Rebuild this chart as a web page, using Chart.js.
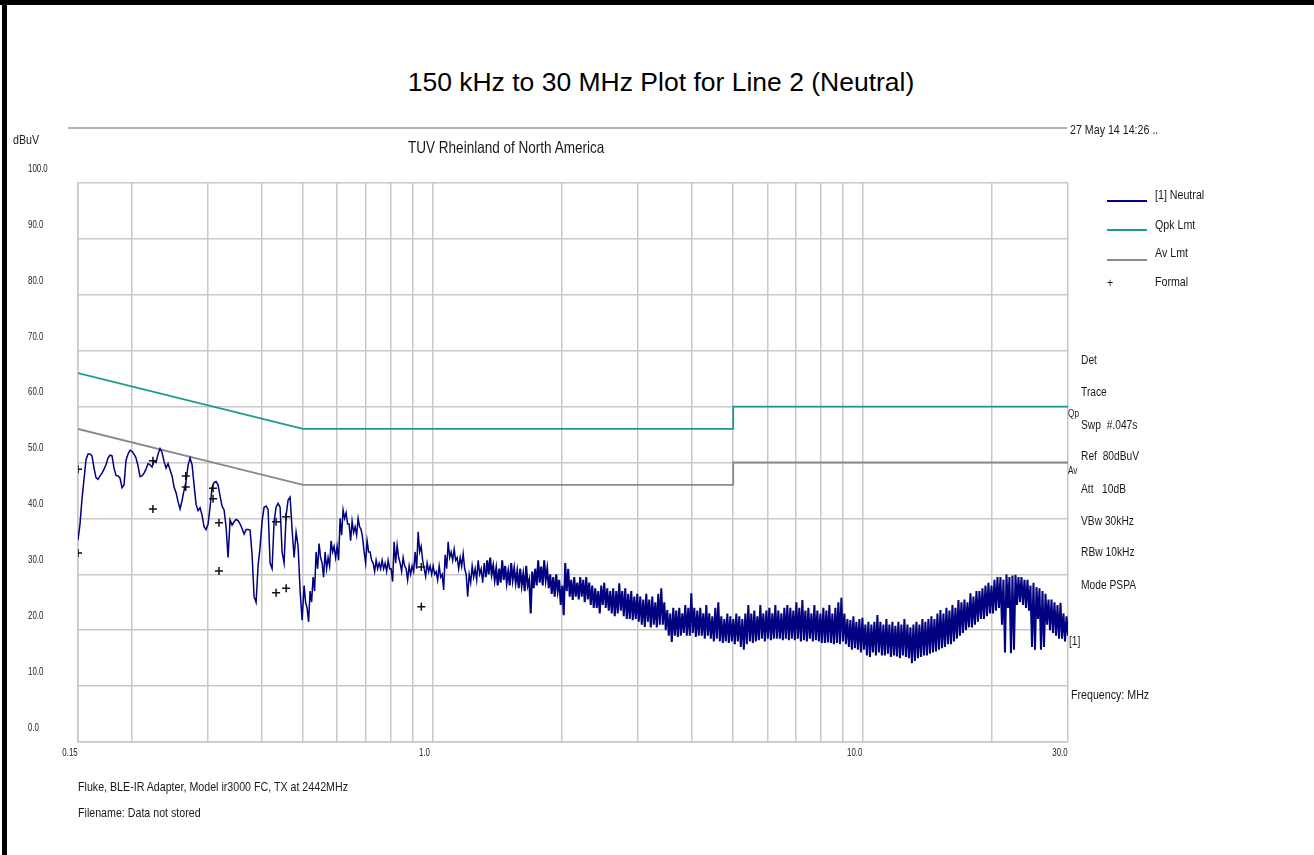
<!DOCTYPE html>
<html>
<head>
<meta charset="utf-8">
<title>150 kHz to 30 MHz Plot for Line 2 (Neutral)</title>
<script src="https://cdn.jsdelivr.net/npm/chart.js@4.4.1/dist/chart.umd.min.js"></script>
<style>
  html, body { margin: 0; padding: 0; background: #fff; }
  #page { position: relative; width: 1314px; height: 855px; overflow: hidden; background: #fff; }
  #topbar { position: absolute; left: 0; top: 0; width: 1314px; height: 5px; background: #000; }
  #leftbar { position: absolute; left: 2px; top: 0; width: 5px; height: 855px; background: #000; }
  #title { position: absolute; left: 0; width: 1322px; top: 69px; text-align: center;
           font: 26.5px "Liberation Sans", Arial, sans-serif; line-height: 1; color: #000; }
  #chartBox { position: absolute; left: 0; top: 0; width: 1314px; height: 855px; }
  /* the analyzer printout uses a narrow face; squeeze Arial-metric text */
  .t { position: absolute; font-family: "Liberation Sans", Arial, sans-serif; line-height: 1;
       color: #1a1a1a; white-space: pre; transform: scaleX(0.82); transform-origin: 0 0; }
  .hline { position: absolute; height: 2px; }
</style>
</head>
<body>
<div id="page">
  <div id="topbar"></div>
  <div id="leftbar"></div>
  <div id="title">150 kHz to 30 MHz Plot for Line 2 (Neutral)</div>
  <div id="chartBox"><canvas id="emi"></canvas></div>

  <div class="hline" style="left:68px; top:127px; width:999px; background:#b4b4b4;"></div>
  <div class="t" style="left:13px; top:133px; font-size:13px;">dBuV</div>
  <div class="t" style="left:1070px; top:123px; font-size:13px;">27 May 14 14:26 ..</div>
  <div class="t" style="left:408px; top:139px; font-size:16.5px;">TUV Rheinland of North America</div>

  <!-- legend -->
  <div class="hline" style="left:1107px; top:200px; width:40px; background:#000080;"></div>
  <div class="hline" style="left:1107px; top:229px; width:40px; background:#1f9a8c;"></div>
  <div class="hline" style="left:1107px; top:259px; width:40px; background:#8a8a8a;"></div>
  <div class="t" style="left:1107px; top:276px; font-size:13px;">+</div>
  <div class="t" style="left:1155px; top:188px; font-size:13px;">[1] Neutral</div>
  <div class="t" style="left:1155px; top:218px; font-size:13px;">Qpk Lmt</div>
  <div class="t" style="left:1155px; top:246px; font-size:13px;">Av Lmt</div>
  <div class="t" style="left:1155px; top:275px; font-size:13px;">Formal</div>

  <!-- analyzer settings -->
  <div class="t" style="left:1081px; top:354px; font-size:12.5px;">Det</div>
  <div class="t" style="left:1081px; top:386px; font-size:12.5px;">Trace</div>
  <div class="t" style="left:1081px; top:419px; font-size:12.5px;">Swp  #.047s</div>
  <div class="t" style="left:1081px; top:450px; font-size:12.5px;">Ref  80dBuV</div>
  <div class="t" style="left:1081px; top:483px; font-size:12.5px;">Att   10dB</div>
  <div class="t" style="left:1081px; top:515px; font-size:12.5px;">VBw 30kHz</div>
  <div class="t" style="left:1081px; top:546px; font-size:12.5px;">RBw 10kHz</div>
  <div class="t" style="left:1081px; top:579px; font-size:12.5px;">Mode PSPA</div>
  <div class="t" style="left:1068px; top:409px; font-size:10px;">Qp</div>
  <div class="t" style="left:1068px; top:466px; font-size:10px;">Av</div>
  <div class="t" style="left:1069px; top:635px; font-size:12.5px;">[1]</div>
  <div class="t" style="left:1071px; top:688px; font-size:13px;">Frequency: MHz</div>

  <div class="t" style="left:78px; top:780px; font-size:13px;">Fluke, BLE-IR Adapter, Model ir3000 FC, TX at 2442MHz</div>
  <div class="t" style="left:78px; top:806px; font-size:13px;">Filename: Data not stored</div>
</div>

<script>
// axis ticks (MHz / dBuV)
const xTicks = [0.15, 0.2, 0.3, 0.4, 0.5, 0.6, 0.7, 0.8, 0.9,
                1, 2, 3, 4, 5, 6, 7, 8, 9, 10, 20, 30];
const xLabels = { 0.15: '0.15', 1: '1.0', 10: '10.0', 30: '30.0' };
const yTicks = [0, 10, 20, 30, 40, 50, 60, 70, 80, 90, 100];

// limit lines
const qpkMHz = [0.15, 0.5, 5, 5, 30];
const qpkDb  = [66, 56, 56, 60, 60];
const avMHz  = [0.15, 0.5, 5, 5, 30];
const avDb   = [56, 46, 46, 50, 50];

// final measurements (+)
const formalMHz = [0.15, 0.15, 0.224, 0.224, 0.267, 0.267, 0.309, 0.309,
                   0.319, 0.319, 0.433, 0.433, 0.457, 0.457, 0.942, 0.942];
const formalDb  = [48.8, 33.8, 50.3, 41.7, 47.6, 45.6, 45.4, 43.5,
                   39.2, 30.6, 39.4, 26.7, 40.3, 27.5, 31.3, 24.2];

// sweep 1: 0.15 - 0.498 MHz, one level per display point
const sweep1Start = 0.15, sweep1Stop = 0.4977;
const sweep1Db = [
  36.1, 39, 43.5, 47, 50.5, 51.5, 51.5, 51.2, 49, 47.3,
  47, 47.6, 48.1, 48.8, 49.6, 50.8, 51.3, 51.2, 49, 47.7,
  47.6, 47.2, 45.5, 46, 50.4, 51.5, 52.2, 52, 51.5, 50.8,
  49.4, 47.5, 47.6, 48.1, 48.8, 49.8, 49.6, 49.2, 50.3, 50,
  51.5, 52.5, 51.8, 50.2, 49, 49.8, 48.7, 47.6, 45.6, 44.6,
  43, 41.7, 43.2, 45, 46.6, 49.5, 50.8, 49.6, 46, 42.5,
  41.4, 41.9, 40.6, 38.5, 38, 39, 42, 45.6, 46.4, 46.6,
  46, 44, 42.2, 41.5, 38.5, 33, 39.7, 38.8, 39.4, 39.8,
  39.6, 39, 38.2, 37.2, 38, 38, 37.9, 33.5, 26, 25,
  31.5, 34.9, 39.5, 42, 42.2, 41.6, 32, 31, 39.5, 42,
  42.7, 42, 34, 32, 40.5, 43.3, 43.8, 38, 33, 37.5,
  35, 27, 21.8
];

// sweep 2: 0.503 - 30 MHz, max / min of each display bucket
const sweep2Start = 0.503, sweep2Stop = 30;
const sweep2Max = [
  28, 24, 27, 29.5, 34, 35.5, 32, 34, 33, 36,
  35, 35, 40, 41.5, 41, 39, 39.5, 38.5, 40, 38,
  34, 36, 34, 32, 32.5, 32, 32.5, 32, 32.5, 31,
  35.8, 35.2, 32, 33, 31, 31.5, 31.5, 34, 37.6, 35,
  31, 32, 31.5, 31.5, 30.5, 31.5, 30, 33.5, 35.8, 34,
  34.5, 33, 33, 33.7, 30, 30, 31.5, 31, 32.5, 31,
  32, 32.5, 33, 31.5, 31, 31, 32.5, 31.5, 30.5, 32,
  31, 30.5, 31, 30, 31.5, 29, 30.5, 31, 32.5, 31.4,
  32.5, 31, 30, 29.5, 30, 29, 28, 32, 31, 29,
  29.5, 28.5, 29.5, 29, 29.5, 28.5, 28, 27.5, 27, 28,
  28.5, 27.5, 27, 27.5, 27, 28.4, 27, 27.5, 26.5, 27,
  26, 26.5, 26, 25.5, 26.5, 25.5, 26, 25, 26.5, 27.5,
  25, 23.6, 23, 24, 23.5, 24, 23, 24.5, 24, 26.6,
  24, 23.5, 24, 23, 24.5, 23, 22.5, 24, 25, 22.5,
  22, 23, 22.5, 22, 23, 22.5, 22, 23, 24.5, 23,
  23.5, 22.5, 24.5, 23, 23.5, 24, 23, 24.5, 23.5, 23,
  24, 24.5, 24, 23.5, 25, 24, 25.4, 23.5, 24, 23,
  24.5, 23.5, 23, 24, 23.5, 24.5, 23, 24, 25, 25.8,
  23, 22, 21.8, 22.5, 21.5, 22, 22.2, 21, 21.5, 21,
  21.5, 22.7, 21.5, 21, 22, 21, 21.5, 20.8, 21.5, 21,
  22, 21, 20.5, 21, 21.5, 21, 22, 21.5, 22, 22.5,
  22, 23, 23.6, 23, 24, 23.5, 24.5, 24, 25.4, 25,
  25.5, 25, 26.6, 26, 27, 27, 27.5, 28, 28.5, 28,
  29, 29.5, 29.5, 29, 30, 29.5, 29.8, 29.9, 29.5, 29.5,
  29, 29, 28, 28.5, 27.7, 27.5, 27, 26.5, 25.5, 25.5,
  25, 24.5, 24.9, 23, 22.5
];
const sweep2Min = [
  25, 21.5, 25, 27, 31, 33, 29.5, 31, 31.5, 34,
  33, 32.5, 37, 40, 39, 36, 37.5, 37, 38.5, 36.5,
  32, 34, 32.5, 30.5, 31, 31, 31, 30.5, 31, 28.7,
  32, 33, 30.5, 31.5, 29, 30, 30.5, 31, 34, 32.5,
  29.6, 30.5, 30, 30, 29, 29.5, 27.2, 31, 33, 32.5,
  32.5, 31, 31.4, 31, 26, 28.5, 29.5, 29, 30, 28.5,
  29.5, 30, 30, 29, 28, 28.5, 29, 28.5, 28, 29,
  28.5, 27.5, 28, 27, 28, 23, 27.5, 28, 28.5, 28,
  29, 27.5, 26.5, 26, 27, 24.5, 22.7, 27, 26, 25.4,
  26, 25.5, 26, 25, 25.5, 24.5, 24, 24, 23, 24.5,
  24, 23.5, 23, 22.5, 23, 23.5, 22.5, 22, 22, 21.8,
  22, 21.5, 21, 20.6, 21.5, 20.5, 21, 20.5, 21, 21,
  20, 19, 17.9, 19, 18.8, 19, 19.5, 19, 19, 19.5,
  18.8, 19, 19, 18.5, 19, 18.5, 18, 18.5, 18, 17.7,
  18, 17.7, 18, 17.5, 18, 17, 16.5, 17.5, 18, 17.7,
  18, 18.2, 18.5, 18, 18.5, 18.2, 18.5, 18.5, 18.5, 18.2,
  18.5, 18.2, 18.5, 18.2, 18.5, 18, 18.2, 18, 18.5, 18,
  18.2, 18, 17.7, 17.7, 17.8, 17.7, 17.5, 17.7, 17.5, 18,
  17.5, 17, 16.5, 16.8, 16.5, 16, 16.5, 15.5, 15.2, 16,
  15.5, 16, 15.5, 15.5, 15.8, 15.2, 15.5, 15.3, 15, 15.5,
  15.2, 15, 14.1, 14.5, 15, 15.2, 15.5, 15.5, 15.8, 16,
  16.2, 16.5, 16.8, 17, 17.5, 17.5, 18, 18.5, 19, 19.5,
  20, 20.5, 20.5, 21, 21.5, 22, 22, 22.5, 23, 23,
  23.5, 24, 21, 16, 24, 15.9, 16.5, 24.5, 25, 24.5,
  24, 23.5, 17, 16.5, 22, 16.5, 17, 21, 20, 19.5,
  19, 18.5, 18.5, 18, 19
];

// analyzer sweep points: log spaced between start and stop
function sweepPoints(f0, f1, levels) {
  const n = levels.length;
  const l0 = Math.log10(f0), l1 = Math.log10(f1);
  return levels.map((y, i) => ({ x: Math.pow(10, l0 + (l1 - l0) * i / (n - 1)), y: y }));
}

const pairs = (xs, ys) => xs.map((x, i) => ({ x: x, y: ys[i] }));

// peak display: each bucket is drawn max then min
const sweep2Db = sweep2Max.flatMap((hi, i) => [hi, sweep2Min[i]]);

const neutral = sweepPoints(sweep1Start, sweep1Stop, sweep1Db)
  .concat(sweepPoints(sweep2Start, sweep2Stop, sweep2Db));

const gridGray = '#c8c8c8';

// tick labels in a squeezed face, placed from the chart's own scales
const narrowTicks = {
  id: 'narrowTicks',
  afterDraw(chart) {
    const { ctx, scales: { x, y } } = chart;
    ctx.save();
    ctx.font = '10.5px "Liberation Sans", Arial, sans-serif';
    ctx.fillStyle = '#1a1a1a';
    ctx.textBaseline = 'middle';
    ctx.textAlign = 'left';
    yTicks.forEach((v) => {
      ctx.save();
      ctx.translate(28, y.getPixelForValue(v) - 14);
      ctx.scale(0.75, 1);
      ctx.fillText(v.toFixed(1), 0, 0);
      ctx.restore();
    });
    ctx.textAlign = 'center';
    Object.keys(xLabels).forEach((k) => {
      ctx.save();
      ctx.translate(x.getPixelForValue(Number(k)) - 8, y.bottom + 11);
      ctx.scale(0.75, 1);
      ctx.fillText(xLabels[k], 0, 0);
      ctx.restore();
    });
    ctx.restore();
  },
};

new Chart(document.getElementById('emi'), {
  type: 'line',
  data: {
    datasets: [
      {
        label: 'Formal',
        data: pairs(formalMHz, formalDb),
        showLine: false,
        pointStyle: 'cross',
        pointRadius: 4,
        pointBorderWidth: 1.5,
        pointBorderColor: '#111',
        borderColor: '#111',
        order: 0,
      },
      {
        label: '[1] Neutral',
        data: neutral,
        borderColor: '#000080',
        borderWidth: 1.5,
        // the dense upper part of the sweep prints as a solid band
        segment: {
          borderWidth: (ctx) => (ctx.p0DataIndex > sweep1Db.length + 120 ? 2 : 1.5),
        },
        pointRadius: 0,
        tension: 0,
        order: 1,
      },
      {
        label: 'Qpk Lmt',
        data: pairs(qpkMHz, qpkDb),
        borderColor: '#1f9a8c',
        borderWidth: 1.8,
        pointRadius: 0,
        order: 2,
      },
      {
        label: 'Av Lmt',
        data: pairs(avMHz, avDb),
        borderColor: '#8a8a8a',
        borderWidth: 1.8,
        pointRadius: 0,
        order: 3,
      },
    ],
  },
  options: {
    responsive: true,
    maintainAspectRatio: false,
    animation: false,
    layout: { padding: { left: 28, top: 183, right: 246, bottom: 91 } },
    plugins: {
      legend: { display: false },
      tooltip: { enabled: false },
    },
    scales: {
      x: {
        type: 'logarithmic',
        min: 0.15,
        max: 30,
        afterBuildTicks: (axis) => { axis.ticks = xTicks.map((v) => ({ value: v })); },
        afterFit: (axis) => { axis.height = 22; },
        ticks: { display: false, autoSkip: false, maxRotation: 0 },
        grid: { color: gridGray, lineWidth: 1.5, drawTicks: false },
        border: { color: gridGray, width: 1.5 },
      },
      y: {
        min: 0,
        max: 100,
        afterFit: (axis) => { axis.width = 50; },
        ticks: { display: false, stepSize: 10 },
        grid: { color: gridGray, lineWidth: 1.5, drawTicks: false },
        border: { color: gridGray, width: 1.5 },
      },
    },
  },
  plugins: [narrowTicks],
});
</script>
</body>
</html>
